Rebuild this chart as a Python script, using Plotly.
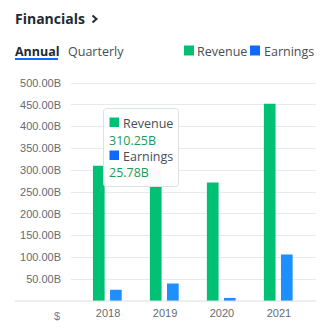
import plotly.graph_objects as go

years = ["2018", "2019", "2020", "2021"]
revenue = [310.25, 302.25, 272.07, 452.67]
earnings = [25.78, 40.14, 7.11, 106.67]
ytick_vals = [50, 100, 150, 200, 250, 300, 350, 400, 450, 500]
ytick_text = [f"{v:.2f}B" for v in ytick_vals]

W, H = 321, 328
ML, MR, MT, MB = 71, 5, 80, 27
PW = W - ML - MR
PH = H - MT - MB

def px(x):
    return (x - ML) / PW

def py(y):
    return (H - MB - y) / PH

GREEN = "#00C073"
BLUE = "#1E8FFF"
BLUE_DARK = "#0F69FF"
TXT = "#232A31"
TXT2 = "#464E56"
GRAY = "#656B72"

fig = go.Figure()
fig.add_trace(go.Bar(x=years, y=revenue, name="Revenue", marker=dict(color=GREEN, line=dict(width=0)),
                     offset=-0.265, width=0.205))
fig.add_trace(go.Bar(x=years, y=earnings, name="Earnings", marker=dict(color=BLUE, line=dict(width=0)),
                     offset=0.035, width=0.205))

top = PH / (218 / 500)

fig.update_layout(
    width=W, height=H, margin=dict(l=ML, r=MR, t=MT, b=MB),
    paper_bgcolor="white", plot_bgcolor="white",
    barmode="overlay", showlegend=False,
    font=dict(family="Liberation Sans, Arial, sans-serif", size=11, color=GRAY),
    xaxis=dict(range=[-0.65, 3.65], showgrid=False, zeroline=False, showline=False,
               tickfont=dict(size=11, color=GRAY), ticks="", ticklabelstandoff=4, fixedrange=True),
    yaxis=dict(range=[0, top], tickvals=ytick_vals, ticktext=ytick_text, showgrid=True,
               gridcolor="#E6E9ED", gridwidth=1, zeroline=False, showline=False, ticks="",
               ticklabelstandoff=9, tickfont=dict(size=11, color=GRAY), fixedrange=True),
)

shapes = []
# baseline
shapes.append(dict(type="line", xref="paper", yref="paper", x0=px(15), x1=px(316), y0=py(301), y1=py(301),
                   line=dict(color="#DADDE1", width=1)))
# underline under Annual
shapes.append(dict(type="rect", xref="paper", yref="paper", x0=px(15), x1=px(58), y0=py(60), y1=py(58),
                   line=dict(width=0), fillcolor=BLUE_DARK))
# legend squares
shapes.append(dict(type="rect", xref="paper", yref="paper", x0=px(184), x1=px(194), y0=py(55.5), y1=py(45.5),
                   line=dict(width=0), fillcolor=GREEN))
shapes.append(dict(type="rect", xref="paper", yref="paper", x0=px(250), x1=px(260), y0=py(55.5), y1=py(45.5),
                   line=dict(width=0), fillcolor=BLUE_DARK))
# title chevron
shapes.append(dict(type="path", xref="paper", yref="paper",
                   path=f"M {px(92.5)},{py(15.5)} L {px(96.5)},{py(19)} L {px(92.5)},{py(22.5)}",
                   line=dict(color=TXT, width=2)))
# tooltip box (rounded)
x0, x1, y0, y1, r = 103.5, 178.5, 108.5, 186.5, 3
path = (f"M {px(x0+r)},{py(y0)} L {px(x1-r)},{py(y0)} Q {px(x1)},{py(y0)} {px(x1)},{py(y0+r)} "
        f"L {px(x1)},{py(y1-r)} Q {px(x1)},{py(y1)} {px(x1-r)},{py(y1)} "
        f"L {px(x0+r)},{py(y1)} Q {px(x0)},{py(y1)} {px(x0)},{py(y1-r)} "
        f"L {px(x0)},{py(y0+r)} Q {px(x0)},{py(y0)} {px(x0+r)},{py(y0)} Z")
shapes.append(dict(type="path", xref="paper", yref="paper", path=path,
                   line=dict(color="#DDE1E6", width=1), fillcolor="rgba(255,255,255,0.97)", layer="above"))
# tooltip squares
shapes.append(dict(type="rect", xref="paper", yref="paper", x0=px(109.5), x1=px(119), y0=py(127), y1=py(117.5),
                   line=dict(width=0), fillcolor=GREEN, layer="above"))
shapes.append(dict(type="rect", xref="paper", yref="paper", x0=px(109.5), x1=px(119), y0=py(160), y1=py(150.5),
                   line=dict(width=0), fillcolor=BLUE_DARK, layer="above"))
fig.update_layout(shapes=shapes)

OS = "Open Sans, Noto Sans, sans-serif"
def ann(text, x, y, size, color, bold=False, family=OS, anchor="left"):
    t = f"<b>{text}</b>" if bold else text
    fig.add_annotation(text=t, x=px(x), y=py(y), xref="paper", yref="paper", xanchor=anchor, yanchor="middle",
                       showarrow=False, font=dict(family=family, size=size, color=color), borderpad=0)

ann("Financials", 14, 18, 14, TXT, bold=True)
ann("Annual", 14, 51, 12.5, TXT, bold=True)
ann("Quarterly", 67, 51, 12.5, TXT2)
ann("Revenue", 196, 51.5, 12.5, TXT2)
ann("Earnings", 263, 51.5, 12.5, TXT2)
ann("Revenue", 122, 123, 12.5, TXT2)
ann(f"{revenue[0]:.2f}B", 108, 140, 12.5, "#1A9A58")
ann("Earnings", 122, 156, 12.5, TXT2)
ann(f"{earnings[0]:.2f}B", 108, 172, 12.5, "#1A9A58")
ann("$", 61, 316, 11, "#5F7FA6", family="Liberation Sans, Arial, sans-serif", anchor="right")

fig.write_html("out.html")
